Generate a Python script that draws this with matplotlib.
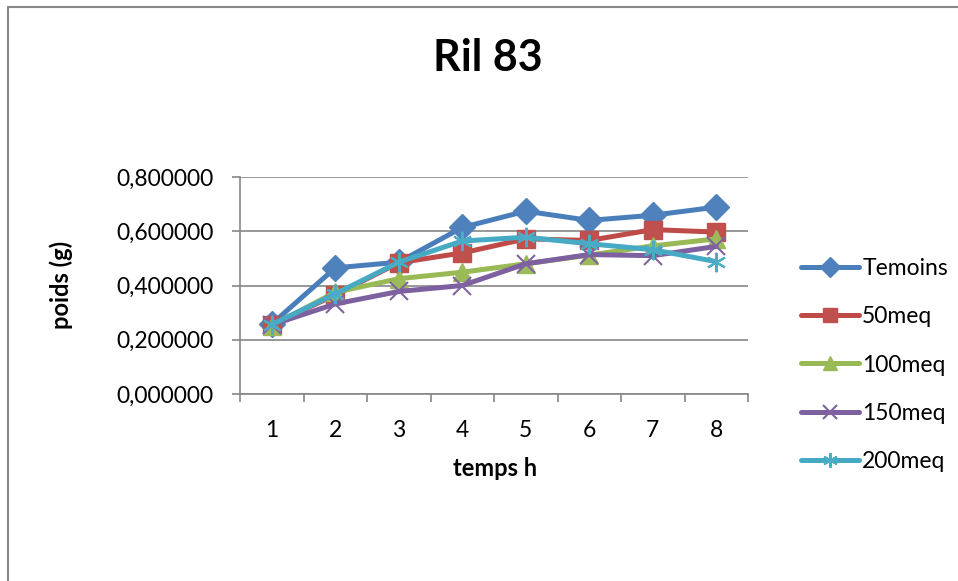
import matplotlib
matplotlib.use("Agg")
import matplotlib.pyplot as plt
from matplotlib.ticker import FuncFormatter, FixedLocator
from matplotlib.patches import Rectangle

plt.rcParams['font.family'] = ['Lato', 'DejaVu Sans']

hours = [1, 2, 3, 4, 5, 6, 7, 8]
temoins = [0.258, 0.465, 0.486, 0.614, 0.674, 0.640, 0.659, 0.689]
meq50 = [0.256, 0.365, 0.484, 0.520, 0.572, 0.566, 0.606, 0.597]
meq100 = [0.252, 0.375, 0.425, 0.449, 0.480, 0.512, 0.546, 0.572]
meq150 = [0.255, 0.332, 0.378, 0.400, 0.480, 0.514, 0.510, 0.544]
meq200 = [0.256, 0.369, 0.486, 0.564, 0.578, 0.554, 0.532, 0.488]
series_names = ['Temoins', '50meq', '100meq', '150meq', '200meq']
yticks = [0.0, 0.2, 0.4, 0.6, 0.8]

W, H = 958, 581
fig = plt.figure(figsize=(W / 100, H / 100), dpi=100)
ax = fig.add_axes([240 / W, 1 - 394 / H, (748 - 240) / W, (394 - 177) / H])

styles = [
    dict(color='#4A7EBB', marker='D', ms=13, mfc='#4F81BD', mec='#4F81BD'),
    dict(color='#BE4B48', marker='s', ms=13, mfc='#C0504D', mec='#C0504D'),
    dict(color='#98B954', marker='^', ms=13, mfc='#9BBB59', mec='#9BBB59'),
    dict(color='#7D60A0', marker='x', ms=13, mfc='#8064A2', mec='#8064A2', mew=1.5),
    dict(color='#46AAC5', marker=(6, 2, 0), ms=14, mfc='#4BACC6', mec='#4BACC6', mew=1.5),
]
data = [temoins, meq50, meq100, meq150, meq200]
for name, vals, st in zip(series_names, data, styles):
    ax.plot(hours, vals, lw=3.6, label=name, solid_capstyle='round', **st)

FS = 16.5
ax.set_xlim(0.5, 8.5)
ax.set_ylim(0, 0.8)
ax.set_yticks(yticks)
ax.yaxis.set_major_formatter(FuncFormatter(lambda v, p: f"{v:.6f}".replace('.', ',')))
ax.set_xticks(hours)
ax.set_xticklabels([str(h) for h in hours])
ax.xaxis.set_minor_locator(FixedLocator([i + 0.5 for i in range(0, 9)]))
ax.tick_params(axis='x', which='major', length=0, pad=19, labelsize=FS)
ax.tick_params(axis='x', which='minor', length=6, width=1.2, color='#868686', direction='out')
ax.tick_params(axis='y', which='major', length=6, width=1.2, color='#868686', pad=13, labelsize=FS)
ax.grid(axis='y', color='#868686', lw=1.2)
ax.set_axisbelow(True)
for s in ['top', 'right']:
    ax.spines[s].set_visible(False)
for s in ['left', 'bottom']:
    ax.spines[s].set_color('#868686')
    ax.spines[s].set_linewidth(1.2)

fig.text(61 / W, 1 - 285 / H, 'poids (g)', fontsize=17, fontweight='bold', rotation=90,
         ha='center', va='center')
fig.text(495 / W, 1 - 469 / H, 'temps h', fontsize=17, fontweight='bold', ha='center', va='center')
fig.text(488 / W, 1 - 58 / H, 'Ril 83', fontsize=31, fontweight='bold', ha='center', va='center')

leg = ax.legend(loc='center left', bbox_to_anchor=(790 / W, 1 - 365 / H), bbox_transform=fig.transFigure,
                frameon=False, fontsize=FS, handlelength=2.5, labelspacing=1.18, handletextpad=0.15,
                borderpad=0, markerscale=0.75)

fig.patches.append(Rectangle((8 / W, -0.1), 1.2, 1 - 7 / H + 0.1, transform=fig.transFigure,
                             fill=False, edgecolor='#878787', lw=1.5))

fig.savefig('out.png', dpi=100)
